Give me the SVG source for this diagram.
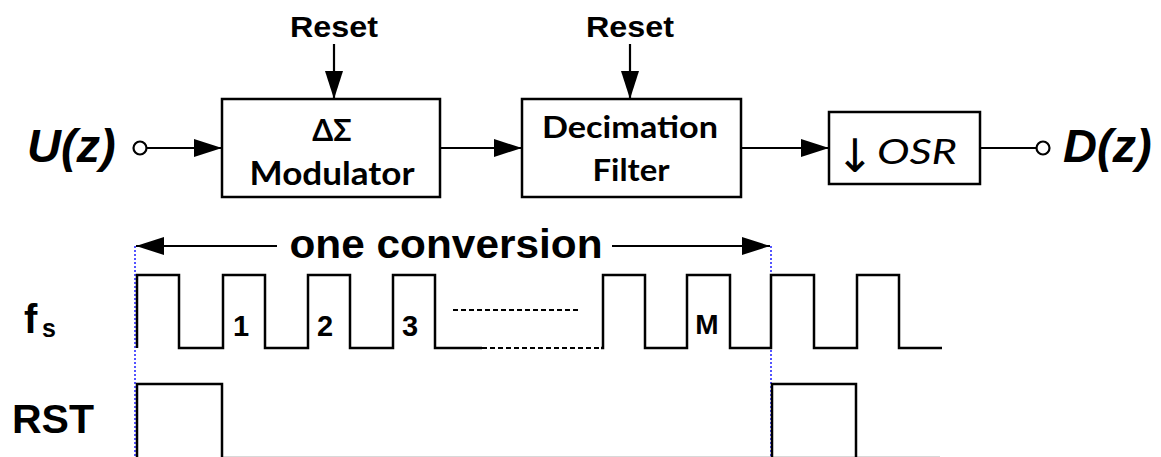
<svg xmlns="http://www.w3.org/2000/svg" width="1161" height="457" viewBox="0 0 1161 457">
<style>
.box{fill:#fff;stroke:#000;stroke-width:2.5}
.ln{fill:none;stroke:#000;stroke-width:2.2}
.wave{fill:none;stroke:#000;stroke-width:2.5;stroke-linejoin:miter}
.dash{fill:none;stroke:#000;stroke-width:2;stroke-dasharray:5,3}
.blue{fill:none;stroke:#2a2aff;stroke-width:1.6;stroke-dasharray:2,2}
.ar{font-family:"Liberation Sans",Arial,sans-serif;font-weight:bold;fill:#000}
.cal{font-family:Lato,"Liberation Sans",sans-serif;font-weight:bold;fill:#000}
.term{font-family:"Liberation Sans",Arial,sans-serif;font-weight:bold;font-style:italic;fill:#000}
.port{fill:#fff;stroke:#000;stroke-width:2.2}
</style>
<defs>
<marker id="ahb" viewBox="0 0 28 18" refX="28" refY="9" markerWidth="28" markerHeight="18" orient="auto" markerUnits="userSpaceOnUse">
<path d="M0,0 L28,9 L0,18 Z" fill="#000"/>
</marker>
</defs>

<g id="connectors">
<line class="ln" x1="146" y1="148" x2="222" y2="148" marker-end="url(#ahb)"/>
<line class="ln" x1="440" y1="148" x2="522" y2="148" marker-end="url(#ahb)"/>
<line class="ln" x1="741" y1="148" x2="829" y2="148" marker-end="url(#ahb)"/>
<line class="ln" x1="980" y1="148" x2="1036" y2="148"/>
<line class="ln" x1="334" y1="44" x2="334" y2="99" marker-end="url(#ahb)"/>
<line class="ln" x1="630" y1="44" x2="630" y2="99" marker-end="url(#ahb)"/>
</g>

<g id="input">
<text class="term" x="27" y="162" font-size="47">U(z)</text>
<circle class="port" cx="140" cy="148" r="6.5"/>
</g>

<g id="reset1"><text class="ar" x="334" y="37" font-size="29" text-anchor="middle" textLength="88" lengthAdjust="spacingAndGlyphs">Reset</text></g>
<g id="reset2"><text class="ar" x="630" y="37" font-size="29" text-anchor="middle" textLength="88" lengthAdjust="spacingAndGlyphs">Reset</text></g>

<g id="modulator">
<rect class="box" x="222" y="99" width="218" height="98"/>
<text class="cal" x="332" y="141" font-size="30" text-anchor="middle">ΔΣ</text>
<text class="cal" x="332" y="185" font-size="32" text-anchor="middle" textLength="165" lengthAdjust="spacingAndGlyphs">Modulator</text>
</g>

<g id="decimation">
<rect class="box" x="522" y="99" width="219" height="98"/>
<text class="cal" x="630" y="138" font-size="31" text-anchor="middle" textLength="176" lengthAdjust="spacingAndGlyphs">Decimation</text>
<text class="cal" x="631" y="181" font-size="31" text-anchor="middle" textLength="77" lengthAdjust="spacingAndGlyphs">Filter</text>
</g>

<g id="osr">
<rect class="box" x="829" y="112" width="151" height="72"/>
<text x="855" y="172" font-family="DejaVu Sans,sans-serif" font-size="46" fill="#000" text-anchor="middle">↓</text>
<text x="877" y="164" font-family="Lato,Liberation Sans,sans-serif" font-style="italic" font-size="35" fill="#000" textLength="80" lengthAdjust="spacingAndGlyphs">OSR</text>
</g>

<g id="output">
<circle class="port" cx="1043" cy="148" r="6.5"/>
<text class="term" x="1063" y="162" font-size="47">D(z)</text>
</g>

<g id="timing">
<line class="blue" x1="135" y1="246" x2="135" y2="457"/>
<line class="blue" x1="771" y1="246" x2="771" y2="457"/>
<line class="ln" x1="277" y1="246" x2="136" y2="246" marker-end="url(#ahb)"/>
<line class="ln" x1="612" y1="246" x2="770" y2="246" marker-end="url(#ahb)"/>
<text class="ar" x="446" y="258" font-size="40" text-anchor="middle" textLength="313" lengthAdjust="spacingAndGlyphs">one conversion</text>

<text class="ar" x="24" y="333" font-size="40">f</text>
<text class="ar" x="42" y="337" font-size="25">s</text>
<text class="ar" x="12" y="433" font-size="40" textLength="82" lengthAdjust="spacingAndGlyphs">RST</text>

<path class="wave" d="M137,348 V275 H179 V348 H223 V275 H265 V348 H308 V275 H350 V348 H393 V275 H435 V348 H482"/>
<path class="dash" d="M482,348 H600"/>
<path class="dash" d="M453,310 H578"/>
<path class="wave" d="M601,348 H603 V275 H645 V348 H687 V275 H730 V348 H771 V275 H814 V348 H857 V275 H899 V348 H942"/>
<text class="ar" x="241" y="336" font-size="29" text-anchor="middle">1</text>
<text class="ar" x="325" y="336" font-size="29" text-anchor="middle">2</text>
<text class="ar" x="410" y="336" font-size="29" text-anchor="middle">3</text>
<text class="ar" x="707" y="334" font-size="28" text-anchor="middle">M</text>

<line x1="222" y1="456.5" x2="940" y2="456.5" stroke="#d8d8d8" stroke-width="1"/>
<path class="wave" d="M137,457 V384 H222 V457"/>
<path class="wave" d="M772,457 V384 H856 V457"/>
</g>
</svg>
